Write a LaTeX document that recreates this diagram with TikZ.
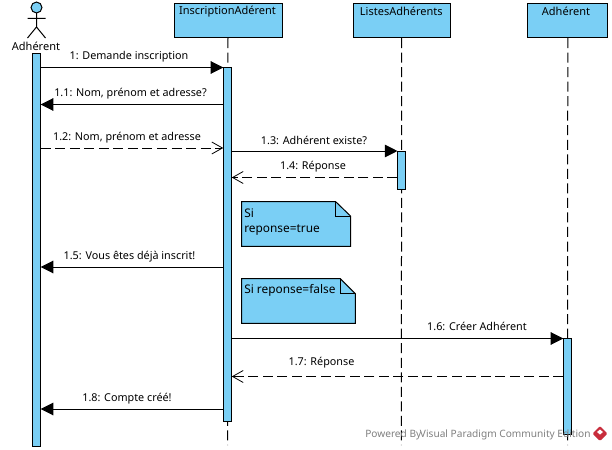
\documentclass[tikz,border=0pt]{standalone}
\usepackage{fontspec}
\setmainfont{Noto Sans}
\usetikzlibrary{arrows.meta, positioning, calc}
\definecolor{vpblue}{RGB}{122,207,245}
\definecolor{vpred}{RGB}{200,45,60}
\tikzset{
  lifebox/.style={draw, fill=vpblue, line width=0.75pt, minimum height=25.9pt, anchor=north west, inner sep=0pt},
  actbar/.style={draw, fill=vpblue, line width=0.75pt, minimum width=5.6pt, inner sep=0pt, anchor=north},
  boxtext/.style={font=\fontsize{8.25}{9.6}\selectfont, inner sep=0pt},
  msgtext/.style={font=\fontsize{8.1}{9}\selectfont, inner sep=0pt},
  notetext/.style={font=\fontsize{8.9}{10}\selectfont, inner sep=0pt, anchor=west},
  lifeline/.style={line width=0.75pt, dash pattern=on 7.5pt off 3.4pt},
  call/.style={line width=0.75pt, -{Triangle[length=9.5pt,width=9.5pt]}},
  reply/.style={line width=0.75pt, dash pattern=on 7.5pt off 3.4pt, -{Straight Barb[length=8pt,width=9pt,line width=0.6pt]}},
  notebox/.style={draw, fill=vpblue, line width=0.75pt, line join=miter}
}
\begin{document}
\begin{tikzpicture}[x=0.75pt, y=-0.75pt]
  \useasboundingbox (0,0) rectangle (612,450);

  % === LIFELINES ===
  \node[lifebox, minimum width=81pt] (inscr) at (173.5,2.5) {};
  \node[lifebox, minimum width=73.1pt] (listes) at (352.5,2.5) {};
  \node[lifebox, minimum width=60pt] (adh) at (527.3,2.5) {};
  \node[boxtext] (inscrlabel) at (227.5,11.5) {InscriptionAdérent};
  \node[boxtext] (listeslabel) at (401.3,11.5) {ListesAdhérents};
  \node[boxtext] (adhlabel) at (566,11.5) {Adhérent};

  \coordinate (endA) at (227.5,445);
  \coordinate (endB) at (401.3,445);
  \coordinate (endC) at (567.5,445);
  \draw[lifeline] (inscr.south) -- (endA);
  \draw[lifeline] (listes.south) -- (endB);
  \draw[lifeline] (adh.south) -- (endC);

  % === ACTOR ===
  \coordinate (neck) at (36.5,12.8);
  \coordinate (hip) at (36.5,27);
  \coordinate (armL) at (27.5,18.3);
  \coordinate (armR) at (45.5,18.3);
  \coordinate (legL) at (27.5,38);
  \coordinate (legR) at (45.5,38);
  \draw[line width=0.75pt] (neck) -- (hip) (armL) -- (armR) (legL) -- (hip) -- (legR);
  \draw[line width=0.75pt, fill=vpblue] (36.5,7.5) circle (4.1pt);
  \node[boxtext] (actorlabel) at (36,46) {Adhérent};

  % === ACTIVATION BARS ===
  \node[actbar, minimum height=294.4pt] (barActor) at (36.5,53) {};
  \node[actbar, minimum height=265.5pt] (barInscr) at (227.5,67) {};
  \node[actbar, minimum height=28.5pt] (barListes) at (401.7,151.3) {};
  \node[actbar, minimum height=71.5pt] (barAdh) at (567.5,338.3) {};

  % === MESSAGES ===
  \coordinate (m1) at (0,67.5);
  \coordinate (m2) at (0,104.5);
  \coordinate (m3) at (0,148);
  \coordinate (m4) at (0,151);
  \coordinate (m5) at (0,177.5);
  \coordinate (m6) at (0,267);
  \coordinate (m7) at (0,338.5);
  \coordinate (m8) at (0,376.5);
  \coordinate (m9) at (0,409);

  \draw[call] (barActor.east |- m1) -- (barInscr.west |- m1);
  \node[msgtext] (lab1) at (129,56.7) {1: Demande inscription};
  \draw[call] (barInscr.west |- m2) -- (barActor.east |- m2);
  \node[msgtext] (lab2) at (130.5,93.7) {1.1: Nom, prénom et adresse?};
  \draw[reply] (barActor.east |- m3) -- (barInscr.west |- m3);
  \node[msgtext] (lab3) at (127,137.7) {1.2: Nom, prénom et adresse};
  \draw[call] (barInscr.east |- m4) -- (barListes.west |- m4);
  \node[msgtext] (lab4) at (314,140.7) {1.3: Adhérent existe?};
  \draw[reply] (barListes.west |- m5) -- (barInscr.east |- m5);
  \node[msgtext] (lab5) at (313,166.7) {1.4: Réponse};
  \draw[call] (barInscr.west |- m6) -- (barActor.east |- m6);
  \node[msgtext] (lab6) at (129.5,256.7) {1.5: Vous êtes déjà inscrit!};
  \draw[call] (barInscr.east |- m7) -- (barAdh.west |- m7);
  \node[msgtext] (lab7) at (477,326.7) {1.6: Créer Adhérent};
  \draw[reply] (barAdh.west |- m8) -- (barInscr.east |- m8);
  \node[msgtext] (lab8) at (321.5,362.7) {1.7: Réponse};
  \draw[call] (barInscr.west |- m9) -- (barActor.east |- m9);
  \node[msgtext] (lab9) at (127,398.7) {1.8: Compte créé!};

  % === NOTES ===
  \draw[notebox] (241.5,201.7) -- (335.7,201.7) -- (350.5,216) -- (350.5,246.4) -- (241.5,246.4) -- cycle;
  \draw[line width=0.75pt] (335.7,201.7) -- (335.7,216) -- (350.5,216);
  \node[notetext] (noteA) at (244,213.5) {Si};
  \node[notetext] (noteAb) at (244,230.5) {reponse=true};

  \draw[notebox] (241.5,278.7) -- (340.3,278.7) -- (355.3,293.6) -- (355.3,323.4) -- (241.5,323.4) -- cycle;
  \draw[line width=0.75pt] (340.3,278.7) -- (340.3,293.6) -- (355.3,293.6);
  \node[notetext] (noteB) at (244,290) {Si reponse=false};

  % === WATERMARK ===
  \node[font=\fontsize{7.6}{9}\selectfont, text=black!50, inner sep=0pt, anchor=west] (mark) at (365,434.5) {Powered By\kern-1pt Visual Paradigm Community Edition};
  \fill[vpred, rounded corners=1pt] (600,426) -- (607.5,433.5) -- (600,441) -- (592.5,433.5) -- cycle;
  \fill[white] (600,429.5) -- (603,432) -- (600,434.5) -- (597,432) -- cycle;
\end{tikzpicture}
\end{document}
